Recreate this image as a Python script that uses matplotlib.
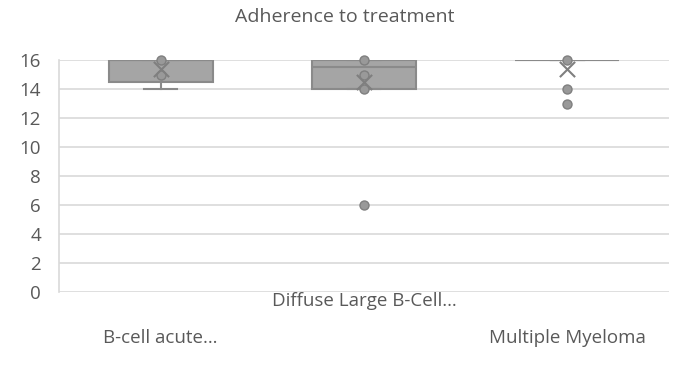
import matplotlib.pyplot as plt

# ====== DATA ======
categories = ['B-cell acute…', 'Diffuse Large B-Cell…', 'Multiple Myeloma']
whislo = [14, 14, 16]
q1 = [14.5, 14, 16]
med = [16, 15.5, 16]
q3 = [16, 16, 16]
whishi = [16, 16, 16]
means = [15.4, 14.5, 15.4]
# points drawn over each box (inner points and outliers)
points = [[16, 15], [16, 15, 14, 6], [16, 14, 13]]

# ====== STYLE ======
plt.rcParams['font.family'] = ['Open Sans', 'DejaVu Sans']
text_col = '#595959'
grid_col = '#d9d9d9'
box_fill = '#a5a5a5'
box_edge = '#8a8a8a'

fig = plt.figure(figsize=(6.77, 3.70), dpi=100)
ax = fig.add_axes([59/677, 1 - 292/370, 610/677, 232/370])

stats = []
for i in range(len(categories)):
    stats.append(dict(whislo=whislo[i], q1=q1[i], med=med[i], q3=q3[i],
                      whishi=whishi[i], mean=means[i], fliers=[]))

pos = [1, 2, 3]
ax.bxp(stats, positions=pos, widths=0.51, patch_artist=True,
       showmeans=False, showfliers=False, showcaps=True,
       boxprops=dict(facecolor=box_fill, edgecolor=box_edge, linewidth=1.5),
       medianprops=dict(color=box_edge, linewidth=1.5),
       whiskerprops=dict(color=box_edge, linewidth=1.5),
       capprops=dict(color=box_edge, linewidth=1.5),
       capwidths=0.16, zorder=3)

for x, pts in zip(pos, points):
    ax.scatter([x] * len(pts), pts, s=42, color='#999999', edgecolor='#7f7f7f',
               linewidth=1, zorder=5, clip_on=False)
ax.scatter(pos, means, marker='x', s=120, color='#7f7f7f', linewidth=1.5,
           zorder=6, clip_on=False)

ax.set_xlim(0.5, 3.5)
ax.set_ylim(0, 16)
ax.set_yticks(range(0, 17, 2))
ax.yaxis.grid(True, color=grid_col, linewidth=1.2)
ax.set_axisbelow(True)
for s in ['top', 'right', 'bottom']:
    ax.spines[s].set_visible(False)
ax.spines['left'].set_color(grid_col)
ax.spines['left'].set_linewidth(1.2)
ax.tick_params(axis='y', length=0, pad=13, labelsize=13.5, labelcolor=text_col)
ax.tick_params(axis='x', length=0)
ax.set_xticks([])

# staggered category labels
ax.text(1, -3.2, categories[0], ha='center', va='center', fontsize=13.5,
        color=text_col)
ax.text(2, -0.6, categories[1], ha='center', va='center', fontsize=13.5,
        color=text_col)
ax.text(3, -3.2, categories[2], ha='center', va='center', fontsize=13.5,
        color=text_col)

fig.text(345/677, 1 - 17/370, 'Adherence to treatment', ha='center',
         va='center', fontsize=14, color=text_col)

fig.savefig('out.png', dpi=100)
